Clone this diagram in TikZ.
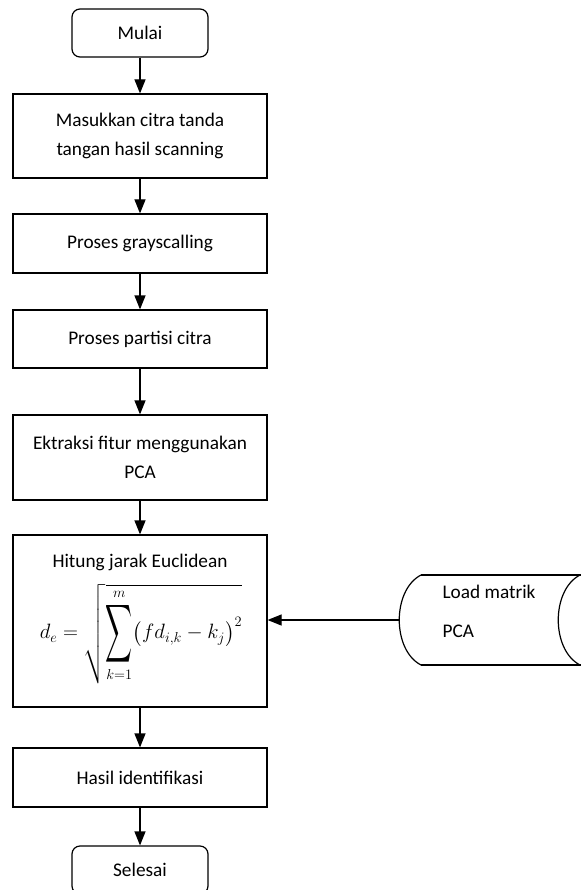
\documentclass[tikz,border=0pt]{standalone}
\usepackage{amsmath}
\usepackage{graphicx}
\usepackage{fontspec}
\setmainfont{Carlito}
\usetikzlibrary{arrows.meta}
\begin{document}
\begin{tikzpicture}[x=1pt,y=-1pt,line width=1.2pt,
  txt/.style={font=\fontsize{19.3}{29}\selectfont},
  box/.style={txt,draw,minimum width=254pt,inner sep=0pt,align=center},
  term/.style={txt,draw,rounded corners=8pt,minimum width=136pt,minimum height=48pt,inner sep=0pt},
  arr/.style={-{Triangle[length=14pt,width=11pt]}}]
\useasboundingbox (0,0) rectangle (580,890);
\node[term] (start) at (140,33) {Mulai};
\node[box,minimum height=84pt] (b1) at (140,136) {Masukkan citra tanda\\tangan hasil scanning};
\node[box,minimum height=59pt] (b2) at (140,243.5) {Proses grayscalling};
\node[box,minimum height=58pt] (b3) at (140,339) {Proses partisi citra};
\node[box,minimum height=85pt] (b4) at (140,457.5) {Ektraksi fitur menggunakan\\PCA};
\node[box,minimum height=172pt] (b5) at (140,621) {};
\node[txt] (b5t) at (140,562) {Hitung jarak Euclidean};
\node[font=\fontsize{21}{25}\selectfont,inner sep=0pt] (b5f) at (141,634)
  {$d_e = \sqrt{\mathop{\vcenter{\hbox{\scalebox{0.9}[1.95]{$\displaystyle\sum$}}}}\limits_{k=1}^{m}\bigl(fd_{i,k}-k_j\bigr)^{2}}$};
\node[box,minimum height=59pt] (b6) at (140,777.5) {Hasil identifikasi};
\node[term] (end) at (140,870) {Selesai};
% stored data shape
\draw (421,575) -- (584,575);
\draw (421,665) -- (584,665);
\draw (421,575) .. controls (392,590) and (392,650) .. (421,665);
\draw (580,575) .. controls (551,590) and (551,650) .. (580,665);
\coordinate (load) at (399.25,620);
\node[font=\fontsize{19.3}{39}\selectfont,anchor=west,align=left,inner sep=0pt] (ltext) at (442,611.5) {Load matrik\\PCA};
% connectors
\draw[arr] (start) -- (b1);
\draw[arr] (b1) -- (b2);
\draw[arr] (b2) -- (b3);
\draw[arr] (b3) -- (b4);
\draw[arr] (b4) -- (b5);
\draw[arr] (b5) -- (b6);
\draw[arr] (b6) -- (end);
\draw[arr] (load) -- (load -| b5.east);
\end{tikzpicture}
\end{document}
